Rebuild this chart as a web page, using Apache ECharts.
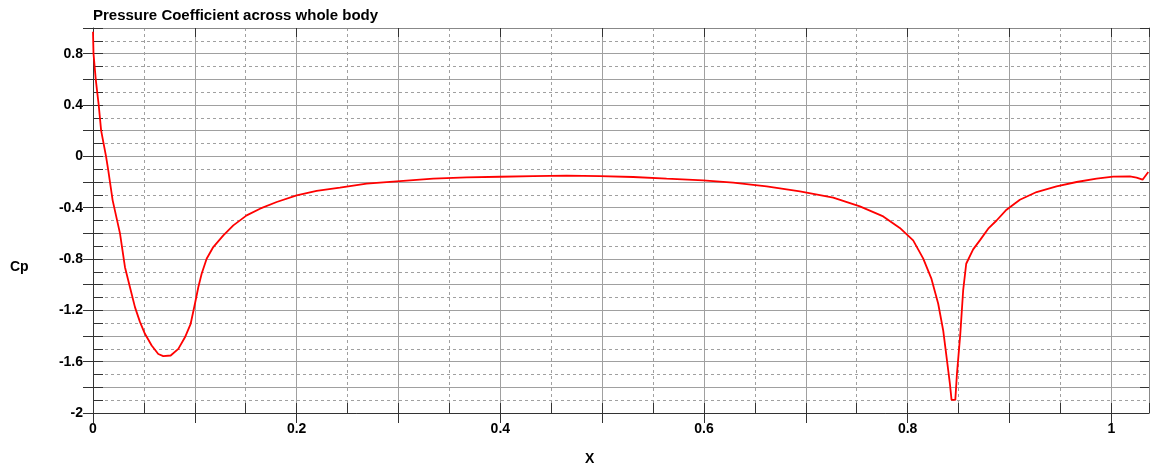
<!DOCTYPE html>
<html>
<head>
<meta charset="utf-8">
<script src="https://cdn.jsdelivr.net/npm/echarts@6/dist/echarts.min.js"></script>
<style>html,body{margin:0;padding:0;background:#fff}#c{width:1154px;height:472px}</style>
</head>
<body>
<div id="c"></div>
<script>
var xValues = [0, 0.0005, 0.0027, 0.0056, 0.0080, 0.0128, 0.0150, 0.0193, 0.0265, 0.0314, 0.0363, 0.0412, 0.0461, 0.051, 0.0576, 0.0641, 0.069, 0.0763, 0.0838, 0.0903, 0.0959, 0.1001, 0.1034, 0.1067, 0.1116, 0.1181, 0.128, 0.1378, 0.1509, 0.164, 0.1804, 0.2, 0.2196, 0.2425, 0.2687, 0.3014, 0.3341, 0.3669, 0.3996, 0.4323, 0.4651, 0.4978, 0.5305, 0.5633, 0.5992, 0.6287, 0.6615, 0.6942, 0.7269, 0.7531, 0.776, 0.7923, 0.8054, 0.8152, 0.8234, 0.83, 0.8349, 0.8382, 0.8415, 0.8431, 0.8468, 0.8484, 0.8517, 0.8545, 0.8575, 0.8643, 0.8709, 0.8791, 0.8873, 0.8971, 0.9102, 0.9266, 0.9462, 0.9659, 0.9855, 1.0018, 1.0182, 1.0248, 1.0307, 1.0363];
var cpValues = [0.97, 0.8, 0.6, 0.4, 0.2, 0.0, -0.11, -0.343, -0.60, -0.864, -1.02, -1.175, -1.29, -1.383, -1.474, -1.54, -1.557, -1.552, -1.50, -1.41, -1.305, -1.149, -1.02, -0.915, -0.798, -0.707, -0.616, -0.538, -0.46, -0.408, -0.356, -0.304, -0.27, -0.244, -0.213, -0.193, -0.174, -0.164, -0.159, -0.154, -0.151, -0.155, -0.161, -0.174, -0.187, -0.205, -0.234, -0.273, -0.322, -0.39, -0.468, -0.558, -0.655, -0.795, -0.955, -1.149, -1.357, -1.565, -1.773, -1.898, -1.898, -1.695, -1.383, -1.045, -0.837, -0.725, -0.655, -0.564, -0.5, -0.416, -0.338, -0.278, -0.234, -0.2, -0.174, -0.158, -0.156, -0.166, -0.182, -0.122];
var titleText = 'Pressure Coefficient across whole body';
var xName = 'X';
var yName = 'Cp';
var xRange = [0, 1.037];
var yRange = [-2, 1];

var pts = xValues.map(function (x, i) { return [x, cpValues[i]]; });
var gridColor = '#a0a0a0';
var tickColor = '#333';
function isMult(v, step) { var r = v / step; return Math.abs(r - Math.round(r)) < 1e-6; }
var labelStyle = { color: '#000', fontFamily: 'Liberation Sans, Arial, sans-serif', fontWeight: 'bold', fontSize: 14 };

var chart = echarts.init(document.getElementById('c'), null, { renderer: 'canvas' });
chart.setOption({
  animation: false,
  title: {
    text: titleText, left: 93, top: 8, padding: 0,
    textStyle: { color: '#000', fontFamily: 'Liberation Sans, Arial, sans-serif', fontWeight: 'bold', fontSize: 15 }
  },
  grid: { left: 93, right: 5, top: 28, bottom: 59, containLabel: false },
  graphic: [
    { type: 'text', left: 10, top: 260, style: { text: yName, fill: '#000', font: 'bold 14px "Liberation Sans", Arial, sans-serif' } },
    { type: 'text', left: 585, top: 452, style: { text: xName, fill: '#000', font: 'bold 14px "Liberation Sans", Arial, sans-serif' } }
  ],
  xAxis: [
    { type: 'value', position: 'bottom', min: xRange[0], max: xRange[1], interval: 0.05,
      axisLine: { show: false, onZero: false }, axisLabel: { show: false },
      axisTick: { show: true, inside: true, length: 10, lineStyle: { color: tickColor } },
      splitLine: { show: true, lineStyle: { color: gridColor, type: [3, 3], width: 1 } } },
    { type: 'value', position: 'bottom', min: xRange[0], max: xRange[1], interval: 0.1,
      axisLine: { show: true, onZero: false, lineStyle: { color: tickColor, width: 1 } },
      axisTick: { show: true, inside: false, length: 10, lineStyle: { color: tickColor } },
      axisLabel: Object.assign({ margin: 9, showMaxLabel: false, formatter: function (v) {
        if (v > 1.0001 || !isMult(v, 0.2)) return '';
        return String(parseFloat(v.toFixed(2)));
      } }, labelStyle),
      splitLine: { show: true, lineStyle: { color: gridColor, type: 'solid', width: 1 } } },
    { type: 'value', position: 'top', min: xRange[0], max: xRange[1], interval: 0.1,
      axisLine: { show: true, onZero: false, lineStyle: { color: '#888', width: 1 } },
      axisTick: { show: true, inside: true, length: 9, lineStyle: { color: tickColor } },
      axisLabel: { show: false }, splitLine: { show: false } }
  ],
  yAxis: [
    { type: 'value', position: 'left', min: yRange[0], max: yRange[1], interval: 0.1,
      axisLine: { show: false, onZero: false }, axisLabel: { show: false },
      axisTick: { show: true, inside: true, length: 10, lineStyle: { color: tickColor } },
      splitLine: { show: true, lineStyle: { color: gridColor, type: [3, 3], width: 1 } } },
    { type: 'value', position: 'left', min: yRange[0], max: yRange[1], interval: 0.2,
      axisLine: { show: true, onZero: false, lineStyle: { color: tickColor, width: 1 } },
      axisTick: { show: true, inside: false, length: 10, lineStyle: { color: tickColor } },
      axisLabel: Object.assign({ margin: 10, formatter: function (v) {
        if (!isMult(v, 0.4)) return '';
        return String(parseFloat(v.toFixed(2)));
      } }, labelStyle),
      splitLine: { show: true, lineStyle: { color: gridColor, type: 'solid', width: 1 } } },
    { type: 'value', position: 'right', min: yRange[0], max: yRange[1], interval: 0.2,
      axisLine: { show: true, onZero: false, lineStyle: { color: '#888', width: 1 } },
      axisTick: { show: true, inside: true, length: 9, lineStyle: { color: tickColor } },
      axisLabel: { show: false }, splitLine: { show: false } }
  ],
  series: [{
    type: 'line', xAxisIndex: 1, yAxisIndex: 1, data: pts,
    showSymbol: false, symbol: 'none', smooth: false,
    lineStyle: { color: '#ff0000', width: 1.8 }, z: 10
  }]
});
</script>
</body>
</html>
